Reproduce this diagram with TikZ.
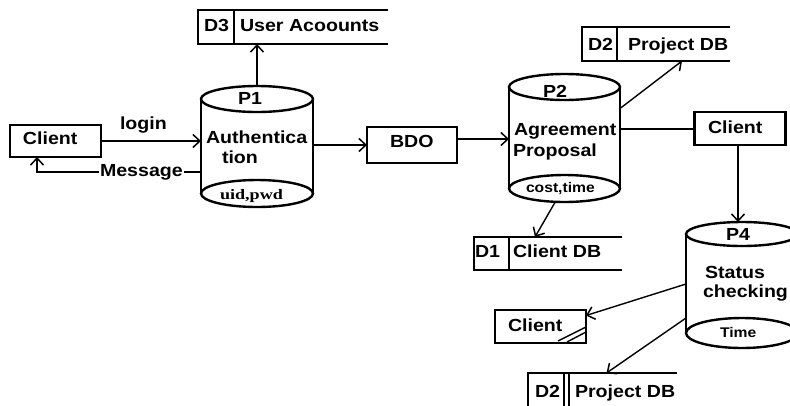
\documentclass[tikz,border=0pt]{standalone}
\usepackage{fontspec}
\setmainfont{Liberation Sans}[FakeStretch=1.12]
\newfontfamily\serifb{Liberation Serif}[FakeStretch=1.25]
\usetikzlibrary{arrows.meta,calc}
\begin{document}
\begin{tikzpicture}[x=1pt,y=-1pt,
  every node/.style={inner sep=0pt,outer sep=0pt},
  ent/.style={draw,line width=2.2pt},
  cyl/.style={line width=2.4pt},
  store/.style={line width=2.2pt},
  conn/.style={line width=2pt},
  thinc/.style={line width=1.4pt},
  arr/.style={-{Straight Barb[length=7pt,width=13pt,line width=1.5pt]}},
  lbl/.style={font=\fontsize{17.5}{18}\selectfont\bfseries,anchor=base west},
  sm/.style={font=\fontsize{14}{14}\selectfont\bfseries,anchor=base west},
  sms/.style={font=\fontsize{14.5}{14}\selectfont\serifb\bfseries,anchor=base west}]
\useasboundingbox[fill=white] (0,0) rectangle (790,405);

% ---------- external entities ----------
\node[ent,minimum width=91pt,minimum height=32pt] (c1) at (55.5,141) {};
\node[ent,minimum width=90pt,minimum height=36pt] (bdo) at (412,145) {};
\node[ent,minimum width=91pt,minimum height=33pt] (c2) at (740,128.5) {};
\node[ent,minimum width=91pt,minimum height=33pt] (c3) at (540.5,326.5) {};
\draw[thinc] ($(c3.south east)+(-28,-2)$) -- ($(c3.south east)+(0,-16)$);
\draw[thinc] ($(c3.south east)+(-19,-1)$) -- ($(c3.south east)+(0,-11)$);

\node[lbl] (tc1) at (23,144) {Client};
\node[lbl] (tbdo) at (390,147) {BDO};
\node[lbl] (tc2) at (708,133) {Client};
\node[lbl] (tc3) at (508,331) {Client};

% ---------- data stores ----------
\node[minimum width=190pt,minimum height=34pt] (d3) at (293,27) {};
\draw[store] (d3.north east) -- (d3.north west) -- (d3.south west) -- (d3.south east);
\draw[store] (234,0 |- d3.north) -- (234,0 |- d3.south);
\node[lbl] (td3a) at (204,31) {D3};
\node[lbl] (td3b) at (240,31) {User Acoounts};

\node[minimum width=148pt,minimum height=34pt] (d2a) at (656,44) {};
\draw[store] (d2a.north east) -- (d2a.north west) -- (d2a.south west) -- (d2a.south east);
\draw[store] (617,0 |- d2a.north) -- (617,0 |- d2a.south);
\node[lbl] (td2aa) at (588,50) {D2};
\node[lbl] (td2ab) at (628,50) {Project DB};

\node[minimum width=148pt,minimum height=33pt] (d1) at (548,253.5) {};
\draw[store] (d1.north east) -- (d1.north west) -- (d1.south west) -- (d1.south east);
\draw[store] (509,0 |- d1.north) -- (509,0 |- d1.south);
\node[lbl] (td1a) at (475,257) {D1};
\node[lbl] (td1b) at (513,257) {Client DB};

\node[minimum width=149pt,minimum height=35pt] (d2b) at (602.5,390.5) {};
\draw[store] (d2b.north east) -- (d2b.north west) -- (d2b.south west) -- (d2b.south east);
\draw[store] (564,0 |- d2b.north) -- (564,0 |- d2b.south);
\draw[store] (569,0 |- d2b.north) -- (569,0 |- d2b.south);
\node[lbl] (td2ba) at (535,397) {D2};
\node[lbl] (td2bb) at (575,397) {Project DB};

% ---------- processes (cylinders) ----------
\node[minimum width=112pt,minimum height=94.5pt] (p1) at (257,146.25) {};
\draw[cyl] (p1.north west) -- (p1.south west) (p1.north east) -- (p1.south east);
\draw[cyl] (p1.north) ellipse [x radius=56,y radius=13];
\draw[cyl] (p1.south) ellipse [x radius=56,y radius=13.5];
\node[lbl] (tp1) at (238,104) {P1};
\node[lbl] (tp1a) at (206,143) {Authentica};
\node[lbl] (tp1b) at (222,163) {tion};
\node[sms] (tp1c) at (220,199) {uid,pwd};

\node[minimum width=111pt,minimum height=101.5pt] (p2) at (564.5,137.75) {};
\draw[cyl] (p2.north west) -- (p2.south west) (p2.north east) -- (p2.south east);
\draw[cyl] (p2.north) ellipse [x radius=55.5,y radius=13];
\draw[cyl] (p2.south) ellipse [x radius=55.5,y radius=13.5];
\node[lbl] (tp2) at (543,97) {P2};
\node[lbl] (tp2a) at (514,135.5) {Agreement};
\node[lbl] (tp2b) at (513,156) {Proposal};
\node[sm] (tp2c) at (526,192) {cost,time};

\node[minimum width=112pt,minimum height=99pt] (p4) at (742,283.5) {};
\draw[cyl] (p4.north west) -- (p4.south west) (p4.north east) -- (p4.south east);
\draw[cyl] (p4.north) ellipse [x radius=56,y radius=12];
\draw[cyl] (p4.south) ellipse [x radius=56,y radius=15];
\node[lbl] (tp4) at (726,240) {P4};
\node[lbl] (tp4a) at (705,278) {Status};
\node[lbl] (tp4b) at (703,297.5) {checking};
\node[sm] (tp4c) at (720,337) {Time};

% ---------- connectors ----------
\draw[conn,arr] (c1.east) -- (p1.west |- c1.east);
\node[lbl] (tlogin) at (120,129) {login};

\coordinate (m1) at ($(p1.west)+(0,25.5)$);
\coordinate (m2) at ($(c1.south)+(-18.5,0)$);
\draw[conn,arr] (m1) -| (m2);
\node[lbl,fill=white,inner xsep=1pt] (tmsg) at (99,176) {Message};

\coordinate (p1t) at ($(p1.north)+(0,-13)$);
\draw[conn,arr] (p1t) -- (p1t |- d3.south);

\draw[conn,arr] (p1.east |- bdo.west) -- (bdo.west);

\coordinate (b1) at ($(bdo.east)+(0,-6)$);
\draw[conn,arr] (b1) -- (p2.west |- b1);

\draw[thinc,arr] ($(p2.east)+(1,-30)$) -- ($(d2a.south)+(26,0)$);

\draw[conn] (p2.east |- c2.west) -- (c2.west);

\coordinate (c2b) at ($(c2.south)+(-2,0)$);
\coordinate (p4t) at ($(p4.north)+(0,-12)$);
\draw[conn,arr] (c2b) -- (c2b |- p4t);

\draw[thinc,arr] ($(p2.south)+(-9,13)$) -- ($(d1.north)+(-13,0)$);

\draw[thinc,arr] ($(p4.west)+(0,0.5)$) -- ($(c3.east)+(0,-11)$);

\draw[thinc,arr] ($(p4.west)+(0,34.5)$) -- ($(d2b.north)+(4,0)$);
\end{tikzpicture}
\end{document}
